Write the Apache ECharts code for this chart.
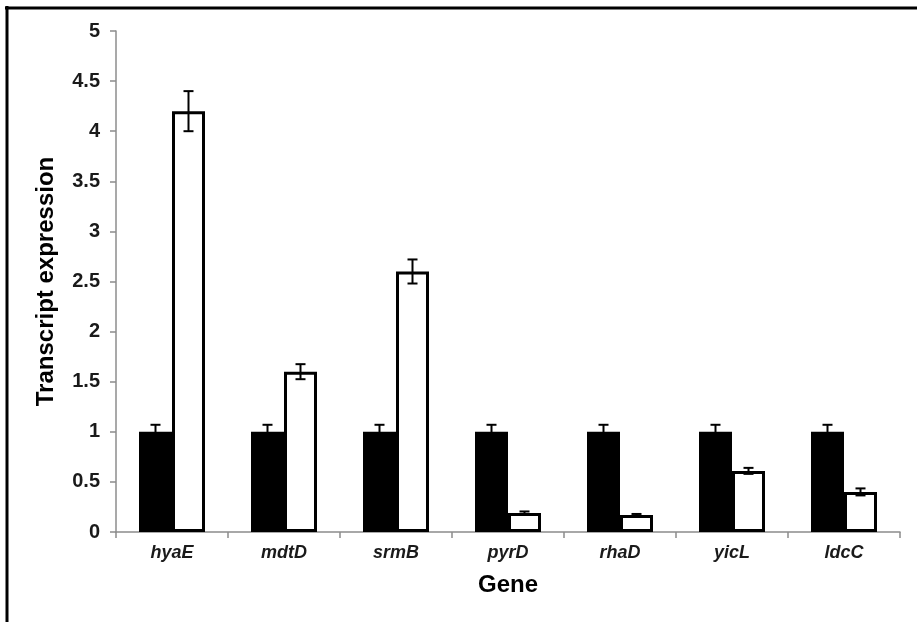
<!DOCTYPE html>
<html>
<head>
<meta charset="utf-8">
<script src="https://cdn.jsdelivr.net/npm/echarts@6/dist/echarts.min.js"></script>
<style>
  html, body { margin: 0; padding: 0; background: #fff; }
  #chart { width: 917px; height: 622px; }
</style>
</head>
<body>
<div id="chart"></div>
<script>
// genes on the x axis
var genes = ['hyaE', 'mdtD', 'srmB', 'pyrD', 'rhaD', 'yicL', 'ldcC'];
// black bars (control) and their error
var controlVals = [1, 1, 1, 1, 1, 1, 1];
var controlErr = [0.07, 0.07, 0.07, 0.07, 0.07, 0.07, 0.07];
// white bars (treated) and their error
var treatedVals = [4.2, 1.6, 2.6, 0.19, 0.17, 0.61, 0.4];
var treatedErr = [0.2, 0.075, 0.12, 0.015, 0.01, 0.03, 0.035];
var yTicks = [0, 0.5, 1, 1.5, 2, 2.5, 3, 3.5, 4, 4.5, 5];

var chart = echarts.init(document.getElementById('chart'));

var BAR_W = 33;

// error bar drawer, offset = -1 left bar, +1 right bar
function errorBar(offset) {
  return function (params, api) {
    var idx = api.value(0);
    var top = api.coord([idx, api.value(1) + api.value(2)]);
    var bot = api.coord([idx, api.value(1) - api.value(2)]);
    var x = top[0] + offset * BAR_W / 2;
    var cap = 5;
    var st = { stroke: '#000', lineWidth: 2 };
    return {
      type: 'group',
      children: [
        { type: 'line', shape: { x1: x, y1: top[1], x2: x, y2: bot[1] }, style: st },
        { type: 'line', shape: { x1: x - cap, y1: top[1], x2: x + cap, y2: top[1] }, style: st },
        { type: 'line', shape: { x1: x - cap, y1: bot[1], x2: x + cap, y2: bot[1] }, style: st }
      ]
    };
  };
}

var ctrlErrData = genes.map(function (g, i) { return [i, controlVals[i], controlErr[i]]; });
var trtErrData = genes.map(function (g, i) { return [i, treatedVals[i], treatedErr[i]]; });

var option = {
  animation: false,
  backgroundColor: '#fff',
  grid: { left: 116, top: 31, right: 17, bottom: 90 },
  xAxis: {
    type: 'category',
    data: genes,
    axisLine: { lineStyle: { color: '#8c8c8c', width: 1.5 } },
    axisTick: { show: true, length: 6, lineStyle: { color: '#8c8c8c', width: 1.5 } },
    axisLabel: {
      color: '#1a1a1a', fontFamily: 'Liberation Sans, Arial, sans-serif',
      fontStyle: 'italic', fontWeight: 'bold', fontSize: 18, margin: 12
    },
    name: 'Gene',
    nameLocation: 'middle',
    nameGap: 41,
    nameTextStyle: {
      color: '#000', fontFamily: 'Liberation Sans, Arial, sans-serif',
      fontWeight: 'bold', fontSize: 24
    }
  },
  yAxis: {
    type: 'value',
    min: 0, max: 5, interval: 0.5,
    splitLine: { show: false },
    axisLine: { show: true, lineStyle: { color: '#8c8c8c', width: 1.5 } },
    axisTick: { show: true, length: 6, lineStyle: { color: '#8c8c8c', width: 1.5 } },
    axisLabel: {
      color: '#1a1a1a', fontFamily: 'Liberation Sans, Arial, sans-serif',
      fontWeight: 'bold', fontSize: 20, margin: 16,
      formatter: function (v) { return yTicks.indexOf(v) >= 0 ? String(v) : ''; }
    },
    name: 'Transcript expression',
    nameLocation: 'middle',
    nameGap: 58,
    nameTextStyle: {
      color: '#000', fontFamily: 'Liberation Sans, Arial, sans-serif',
      fontWeight: 'bold', fontSize: 24
    }
  },
  series: [
    {
      type: 'bar', data: controlVals, barWidth: BAR_W, barGap: '0%',
      itemStyle: { color: '#000', borderColor: '#000', borderWidth: 2 }
    },
    {
      type: 'bar', data: treatedVals, barWidth: BAR_W, barGap: '0%',
      itemStyle: { color: '#fff', borderColor: '#000', borderWidth: 3 }
    },
    {
      type: 'custom', renderItem: errorBar(-1), data: ctrlErrData, z: 5,
      encode: { x: 0, y: 1 }
    },
    {
      type: 'custom', renderItem: errorBar(1), data: trtErrData, z: 5,
      encode: { x: 0, y: 1 }
    }
  ],
  graphic: [
    { type: 'line', shape: { x1: 5, y1: 8, x2: 917, y2: 8 }, style: { stroke: '#000', lineWidth: 3 } },
    { type: 'line', shape: { x1: 7, y1: 6, x2: 7, y2: 622 }, style: { stroke: '#000', lineWidth: 3 } }
  ]
};

chart.setOption(option);
</script>
</body>
</html>
